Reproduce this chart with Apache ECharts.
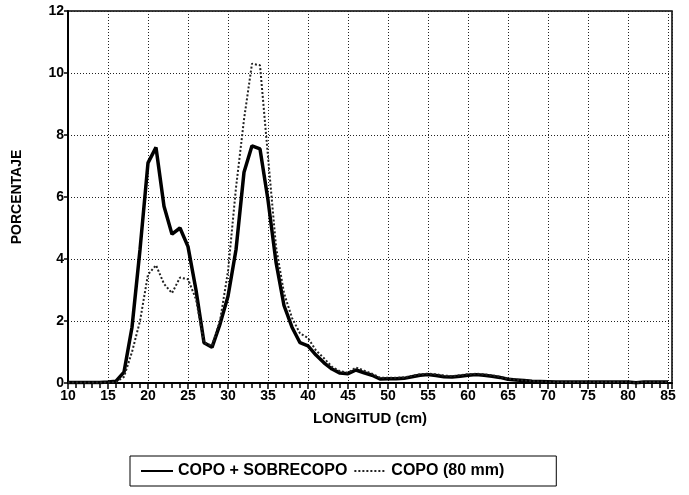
<!DOCTYPE html>
<html>
<head>
<meta charset="utf-8">
<script src="https://cdn.jsdelivr.net/npm/echarts@6/dist/echarts.min.js"></script>
<style>
  html, body { margin: 0; padding: 0; background: #fff; }
  #chart { width: 689px; height: 495px; }
</style>
</head>
<body>
<div id="chart"></div>
<script>
// longitud (cm), 10..85
var longitudes = [];
for (var l = 10; l <= 85; l++) longitudes.push(l);

// COPO + SOBRECOPO
var copoSobrecopo = [
  0.02, 0.02, 0.02, 0.02, 0.02, 0.03, 0.06, 0.35, 1.8, 4.3,
  7.1, 7.6, 5.7, 4.8, 5.0, 4.4, 3.0, 1.3, 1.15, 1.9,
  2.8, 4.3, 6.8, 7.65, 7.55, 5.9, 3.9, 2.5, 1.8, 1.3,
  1.2, 0.9, 0.65, 0.45, 0.32, 0.3, 0.42, 0.33, 0.25, 0.13,
  0.14, 0.14, 0.15, 0.2, 0.25, 0.27, 0.24, 0.2, 0.19, 0.22,
  0.25, 0.27, 0.25, 0.22, 0.18, 0.12, 0.1, 0.08, 0.06, 0.05,
  0.04, 0.03, 0.03, 0.03, 0.03, 0.03, 0.03, 0.03, 0.03, 0.03,
  0.03, 0.01, 0.03, 0.03, 0.03, 0.03
];

// COPO (80 mm)
var copo80 = [
  0.02, 0.02, 0.02, 0.02, 0.02, 0.02, 0.03, 0.2, 1.0, 2.0,
  3.5, 3.8, 3.2, 2.9, 3.4, 3.35, 2.7, 1.3, 1.2, 2.0,
  3.6, 6.3, 8.5, 10.3, 10.25, 7.3, 4.4, 2.9, 2.1, 1.6,
  1.45, 1.05, 0.8, 0.52, 0.38, 0.33, 0.5, 0.4, 0.3, 0.17,
  0.17, 0.17, 0.18, 0.23, 0.28, 0.3, 0.28, 0.24, 0.22, 0.25,
  0.28, 0.3, 0.28, 0.25, 0.2, 0.14, 0.11, 0.08, 0.06, 0.05,
  0.04, 0.03, 0.03, 0.03, 0.03, 0.03, 0.03, 0.03, 0.03, 0.03,
  0.03, 0.01, 0.03, 0.03, 0.03, 0.03
];

function pares(ys) {
  return longitudes.map(function (x, i) { return [x, ys[i]]; });
}

var font = 'Liberation Sans, Arial, sans-serif';
var chart = echarts.init(document.getElementById('chart'));
chart.setOption({
  animation: false,
  grid: {
    left: 68, right: 17, top: 11, bottom: 112,
    outerBoundsMode: 'none',
    show: true, borderColor: '#000', borderWidth: 1.5
  },
  legend: {
    left: 130, top: 456,
    padding: [7, 52, 7, 10],
    borderColor: '#000', borderWidth: 1,
    itemWidth: 32, itemHeight: 10, itemGap: 6,
    itemStyle: { opacity: 0 },
    textStyle: { fontFamily: font, fontWeight: 'bold', fontSize: 16, color: '#000' },
    data: ['COPO + SOBRECOPO', 'COPO (80 mm)']
  },
  xAxis: {
    type: 'value', min: 10, max: 85.5, interval: 5,
    name: 'LONGITUD (cm)', nameLocation: 'middle', nameGap: 28,
    nameTextStyle: { fontFamily: font, fontWeight: 'bold', fontSize: 15, color: '#000' },
    axisLine: { lineStyle: { color: '#000', width: 2 } },
    axisTick: { length: 6, lineStyle: { color: '#000', width: 1.5 } },
    minorTick: { show: true, splitNumber: 5, length: 5, lineStyle: { color: '#000', width: 1.5 } },
    axisLabel: { fontFamily: font, fontWeight: 'bold', fontSize: 14, color: '#000', margin: 6 },
    splitLine: { show: true, lineStyle: { color: '#222', type: [1, 2], width: 1 } }
  },
  yAxis: {
    type: 'value', min: 0, max: 12, interval: 2,
    name: 'PORCENTAJE', nameLocation: 'middle', nameGap: 44,
    nameTextStyle: { fontFamily: font, fontWeight: 'bold', fontSize: 14, color: '#000' },
    axisLine: { show: true, lineStyle: { color: '#000', width: 2 } },
    axisTick: { show: true, length: 4, lineStyle: { color: '#000', width: 1.5 } },
    axisLabel: { fontFamily: font, fontWeight: 'bold', fontSize: 14, color: '#000', margin: 4 },
    splitLine: { show: true, lineStyle: { color: '#222', type: [1, 2], width: 1 } }
  },
  series: [
    {
      name: 'COPO + SOBRECOPO', type: 'line', symbol: 'none',
      data: pares(copoSobrecopo),
      lineStyle: { color: '#000', width: 3.5 },
      itemStyle: { color: '#000' }
    },
    {
      name: 'COPO (80 mm)', type: 'line', symbol: 'none',
      data: pares(copo80),
      lineStyle: { color: '#222', width: 2, type: [2, 2] },
      itemStyle: { color: '#222' }
    }
  ]
});
</script>
</body>
</html>
